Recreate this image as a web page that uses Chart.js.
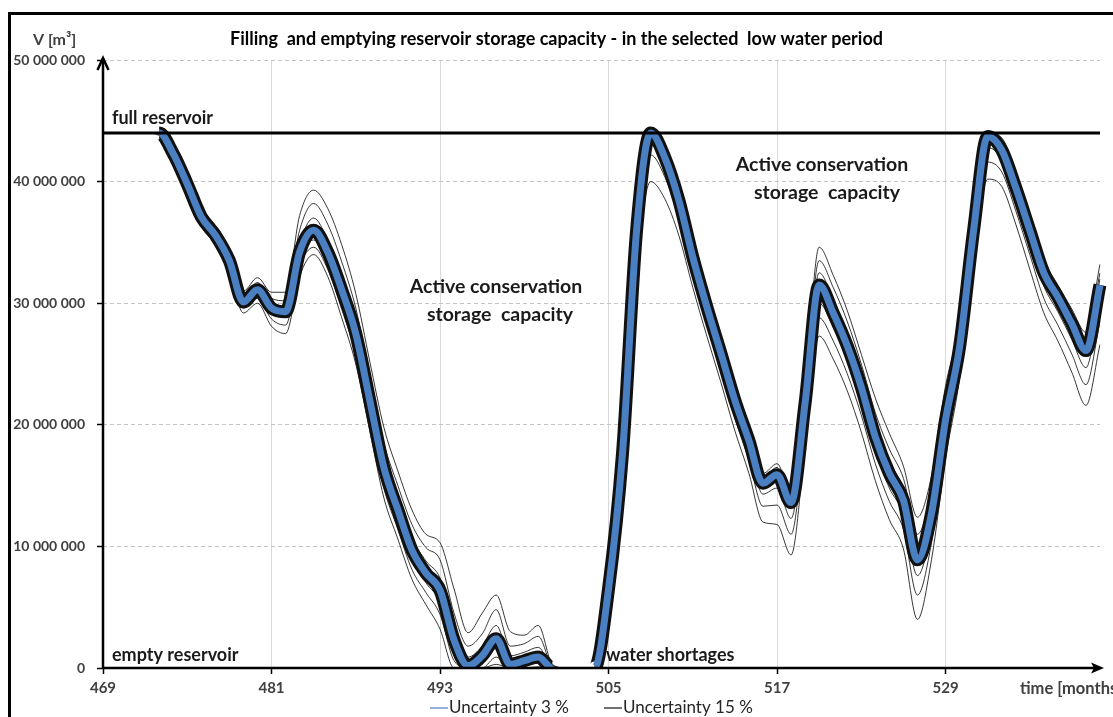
<!DOCTYPE html>
<html>
<head>
<meta charset="utf-8">
<title>Reservoir storage</title>
<script src="https://cdn.jsdelivr.net/npm/chart.js@4.4.1/dist/chart.umd.min.js"></script>
<style>
  html, body { margin: 0; padding: 0; background: #fff; }
  #wrap { width: 1113px; height: 717px; }
  canvas { display: block; }
</style>
</head>
<body>
<div id="wrap"><canvas id="chart" width="1113" height="717"></canvas></div>
<script>
// months of the simulated low-water period
const months = [];
for (let m = 469; m <= 540; m++) months.push(m);

const xTickLabels = [469, 481, 493, 505, 517, 529];
const yTickLabels = ['0', '10 000 000', '20 000 000', '30 000 000', '40 000 000', '50 000 000'];

// storage volume of the full reservoir, million m3
const fullStorage = 44.0;

// storage volume, million m3, monthly – uncertainty 3 % (run band centre)
const volume3 = [
  44.0, 44.0, 44.0, 44.0, 44.0, 42.3, 39.8, 37.1, 35.6, 33.5, 30.1, 31.1,
  29.6, 29.3, 34.2, 36.0, 34.2, 31.1, 27.5, 22.0, 16.5, 13.0, 9.7, 7.8,
  6.4, 2.3, 0.2, 1.0, 2.4, 0.3, 0.6, 0.9, 0.0, 0.0, 0.0, 0.0,
  6.5, 17.7, 36.0, 44.0, 42.0, 38.5, 33.8, 29.7, 25.9, 22.0, 18.7, 15.2,
  15.9, 13.6, 21.8, 31.5, 29.2, 26.5, 23.1, 19.0, 16.0, 13.8, 8.9, 12.7,
  20.4, 26.4, 36.0, 43.7, 42.6, 39.5, 36.0, 32.5, 30.5, 28.3, 26.1, 31.5
];

// storage volume, million m3, monthly – uncertainty 15 % runs
const volume15a = [
  44.0, 44.0, 44.0, 44.0, 44.0, 42.9, 40.6, 37.9, 36.4, 34.4, 31.0, 32.1,
  30.9, 30.9, 37.2, 39.3, 37.8, 34.8, 30.8, 25.2, 19.8, 16.2, 13.0, 11.0,
  10.3, 6.5, 2.9, 4.5, 6.0, 3.0, 2.7, 3.5, 0.3, 0.0, 0.0, 0.0,
  7.5, 19.0, 37.0, 44.0, 42.6, 39.4, 34.7, 30.6, 26.8, 22.9, 19.6, 16.0,
  16.8, 14.4, 23.0, 34.6, 32.3, 29.4, 25.8, 22.2, 19.3, 16.6, 12.4, 15.8,
  23.2, 28.2, 37.0, 44.0, 43.6, 40.8, 37.2, 33.6, 31.5, 29.5, 27.6, 33.2
];
const volume15b = [
  44.0, 44.0, 44.0, 44.0, 44.0, 42.7, 40.3, 37.6, 36.1, 34.0, 30.6, 31.7,
  30.4, 30.2, 36.0, 38.2, 36.5, 33.4, 29.6, 24.0, 18.5, 15.0, 11.8, 9.9,
  8.9, 4.5, 1.8, 2.8, 4.8, 1.8, 2.0, 2.6, 0.2, 0.0, 0.0, 0.0,
  7.2, 18.6, 36.7, 44.0, 42.3, 39.0, 34.4, 30.3, 26.5, 22.6, 19.3, 15.7,
  16.5, 14.1, 22.6, 33.5, 31.3, 28.5, 25.0, 21.0, 18.0, 15.6, 11.0, 14.6,
  22.2, 27.6, 36.7, 44.0, 43.3, 40.3, 36.7, 33.1, 31.1, 29.0, 27.0, 32.5
];
const volume15c = [
  44.0, 44.0, 44.0, 44.0, 44.0, 42.5, 40.0, 37.3, 35.8, 33.7, 30.3, 31.4,
  29.9, 29.7, 34.9, 37.0, 35.2, 32.2, 28.5, 23.0, 17.4, 13.9, 10.7, 8.8,
  7.4, 3.3, 0.9, 1.8, 3.5, 1.0, 1.3, 1.7, 0.1, 0.0, 0.0, 0.0,
  6.9, 18.2, 36.4, 44.0, 42.1, 38.8, 34.1, 30.0, 26.2, 22.3, 19.0, 15.5,
  16.2, 13.8, 22.2, 32.5, 30.3, 27.5, 24.1, 20.0, 17.0, 14.7, 9.9, 13.6,
  21.3, 27.0, 36.4, 43.9, 43.0, 39.9, 36.3, 32.8, 30.8, 28.6, 26.5, 32.0
];
const volume15d = [
  44.0, 44.0, 44.0, 44.0, 44.0, 42.1, 39.6, 36.9, 35.4, 33.3, 29.9, 30.8,
  29.2, 28.9, 33.6, 35.2, 33.4, 30.2, 26.6, 21.1, 15.6, 12.2, 8.9, 7.0,
  5.4, 1.4, 0.0, 0.3, 1.6, 0.0, 0.2, 0.4, 0.0, 0.0, 0.0, 0.0,
  6.1, 17.2, 35.4, 43.2, 41.3, 37.9, 33.2, 29.1, 25.3, 21.3, 17.9, 14.3,
  14.8, 12.3, 20.6, 30.0, 28.0, 25.3, 21.9, 17.8, 14.8, 12.6, 7.6, 11.5,
  19.5, 25.6, 35.4, 42.8, 41.8, 38.6, 35.0, 31.4, 29.3, 27.0, 24.7, 30.3
];
const volume15e = [
  44.0, 44.0, 44.0, 44.0, 43.9, 41.9, 39.3, 36.6, 35.1, 33.0, 29.6, 30.4,
  28.7, 28.2, 33.0, 34.6, 32.8, 29.5, 25.8, 20.3, 14.8, 11.4, 8.1, 6.2,
  4.4, 0.6, 0.0, 0.0, 0.9, 0.0, 0.0, 0.1, 0.0, 0.0, 0.0, 0.0,
  5.8, 16.8, 34.6, 42.2, 40.4, 37.0, 32.4, 28.3, 24.5, 20.5, 17.1, 13.3,
  13.4, 11.0, 19.5, 28.8, 26.9, 24.2, 20.8, 16.8, 13.7, 11.4, 6.0, 10.3,
  18.4, 24.7, 34.6, 41.6, 40.8, 37.6, 34.0, 30.4, 28.2, 25.8, 23.3, 28.5
];
const volume15f = [
  44.0, 44.0, 44.0, 44.0, 43.8, 41.7, 39.0, 36.3, 34.8, 32.6, 29.2, 30.0,
  28.1, 27.5, 32.2, 34.0, 32.2, 28.8, 25.0, 19.5, 14.0, 10.6, 7.3, 5.2,
  3.2, 0.0, 0.0, 0.0, 0.3, 0.0, 0.0, 0.0, 0.0, 0.0, 0.0, 0.0,
  5.4, 16.2, 32.8, 40.0, 38.6, 35.6, 31.3, 27.3, 23.5, 19.5, 16.0, 12.0,
  11.8, 9.3, 18.2, 27.3, 25.4, 22.8, 19.4, 15.4, 12.2, 9.8, 4.0, 8.9,
  17.2, 23.8, 33.6, 40.2, 39.6, 36.5, 32.8, 29.2, 26.9, 24.3, 21.6, 26.6
];

const FONT = 'Lato, "Open Sans", "DejaVu Sans", sans-serif';
const BLUE = '#4a7fc1';

// where all runs coincide (reservoir full or empty) the bundle shrinks to a hairline
const atBound = c => {
  const a = c.p0.parsed.y, b = c.p1.parsed.y;
  return a === b && (a === 0 || a === fullStorage);
};

const thinRun = (data, label) => ({
  label, data, borderColor: 'rgba(20,20,20,0.85)', borderWidth: 1,
  pointRadius: 0, cubicInterpolationMode: 'monotone', order: 4
});

const datasets = [
  {
    label: 'full reservoir', data: months.map(() => fullStorage),
    borderColor: '#000', borderWidth: 3, pointRadius: 0, order: 0
  },
  {
    label: 'Uncertainty 3 %', data: volume3, keyEntry: true, keyWidth: 1.2,
    borderColor: BLUE, borderWidth: 7, pointRadius: 0,
    cubicInterpolationMode: 'monotone', order: 1,
    segment: { borderWidth: c => atBound(c) ? 1.5 : undefined }
  },
  {
    label: 'Uncertainty 15 %', data: volume3, keyEntry: true, keyWidth: 1.2,
    borderColor: '#111', borderWidth: 13, pointRadius: 0,
    cubicInterpolationMode: 'monotone', order: 2,
    segment: { borderWidth: c => atBound(c) ? 1 : undefined }
  },
  thinRun(volume15a, 'Uncertainty 15 % a'),
  thinRun(volume15b, 'Uncertainty 15 % b'),
  thinRun(volume15c, 'Uncertainty 15 % c'),
  thinRun(volume15d, 'Uncertainty 15 % d'),
  thinRun(volume15e, 'Uncertainty 15 % e'),
  thinRun(volume15f, 'Uncertainty 15 % f')
];

// axes with arrows, labels, key and outer frame
const decor = {
  id: 'decor',
  beforeDraw(chart) {
    const { ctx } = chart;
    ctx.save();
    ctx.fillStyle = '#fff';
    ctx.fillRect(0, 0, chart.width, chart.height);
    ctx.restore();
  },
  afterDatasetsDraw(chart) {
    const { ctx, chartArea: a, scales: { x, y } } = chart;
    const x0 = x.getPixelForValue(0);
    const yb = y.getPixelForValue(0);
    const yt = y.getPixelForValue(50);
    ctx.save();
    ctx.strokeStyle = '#000';
    ctx.fillStyle = '#000';
    ctx.lineWidth = 2.5;
    ctx.beginPath(); ctx.moveTo(x0, yb + 1); ctx.lineTo(x0, yt - 2); ctx.stroke();
    ctx.beginPath(); ctx.moveTo(x0 - 5.5, yt + 10); ctx.lineTo(x0, yt - 2); ctx.lineTo(x0 + 5.5, yt + 10); ctx.stroke();
    const xr = a.right + 2;
    ctx.beginPath(); ctx.moveTo(x0, yb); ctx.lineTo(xr - 6, yb); ctx.stroke();
    ctx.beginPath();
    ctx.moveTo(xr + 2, yb); ctx.lineTo(xr - 11, yb - 5.5); ctx.lineTo(xr - 8, yb); ctx.lineTo(xr - 11, yb + 5.5);
    ctx.closePath(); ctx.fill();
    ctx.restore();
  },
  afterDraw(chart) {
    const { ctx, scales: { y } } = chart;
    const yFull = y.getPixelForValue(fullStorage);
    const yZero = y.getPixelForValue(0);
    ctx.save();
    ctx.textBaseline = 'middle';
    ctx.fillStyle = '#1a1a1a';
    ctx.font = `bold 18px ${FONT}`;
    ctx.textAlign = 'left';
    ctx.fillText('full reservoir', 112, yFull - 15);
    ctx.fillText('empty reservoir', 112, yZero - 13);
    ctx.fillText('water shortages', 606, yZero - 13);
    ctx.textAlign = 'center';
    ctx.font = `bold 19.5px ${FONT}`;
    ctx.fillText('Active conservation', 496, 287);
    ctx.fillText('storage  capacity', 500, 315);
    ctx.fillText('Active conservation', 822, 165);
    ctx.fillText('storage  capacity', 827, 193);

    ctx.textAlign = 'left';
    ctx.fillStyle = '#404040';
    ctx.font = `bold 16px ${FONT}`;
    ctx.fillText('V [m\u00B3]', 33, 40);
    ctx.font = `bold 16.5px ${FONT}`;
    ctx.fillText('time [months]', 1020, 689);

    // series key
    ctx.font = `17px ${FONT}`;
    const slots = [430, 604];
    chart.data.datasets.filter(d => d.keyEntry).forEach((d, i) => {
      const lx = slots[i];
      ctx.strokeStyle = d.borderColor;
      ctx.lineWidth = d.keyWidth;
      ctx.beginPath(); ctx.moveTo(lx, 708); ctx.lineTo(lx + 18, 708); ctx.stroke();
      ctx.fillStyle = '#262626';
      ctx.fillText(d.label, lx + 19, 708);
    });

    ctx.strokeStyle = '#000';
    ctx.lineWidth = 3;
    ctx.strokeRect(9.5, 13.5, 1400, 900);
    ctx.restore();
  }
};

new Chart(document.getElementById('chart'), {
  type: 'line',
  data: { labels: months, datasets },
  options: {
    responsive: false,
    animation: false,
    events: [],
    layout: { padding: { left: 13, right: 13, top: 3, bottom: 0 } },
    plugins: {
      legend: { display: false },
      tooltip: { enabled: false },
      title: {
        display: true,
        text: 'Filling  and emptying reservoir storage capacity - in the selected  low water period',
        color: '#000',
        font: { family: FONT, size: 18, weight: 'bold', lineHeight: 1.2 },
        padding: { top: 25, bottom: 10.4 }
      }
    },
    scales: {
      x: {
        type: 'category',
        afterFit: s => { s.height = 49; },
        border: { display: false },
        grid: {
          color: c => (c.index > 0 && xTickLabels.includes(months[c.index])) ? '#d9d9d9' : 'rgba(0,0,0,0)',
          tickColor: c => xTickLabels.includes(months[c.index]) ? '#000' : 'rgba(0,0,0,0)',
          lineWidth: 1,
          tickLength: 6,
          tickWidth: 1.5
        },
        ticks: {
          autoSkip: false,
          maxRotation: 0,
          padding: 5,
          color: '#404040',
          font: { family: FONT, size: 15, weight: 'bold' },
          callback: (v, i) => xTickLabels.includes(months[i]) ? String(months[i]) : ''
        }
      },
      y: {
        min: 0,
        max: 50,
        afterFit: s => { s.width = 90; },
        border: { display: false, dash: [4, 3] },
        grid: { color: '#c4c4c4', lineWidth: 1, tickLength: 6, tickColor: '#000', tickWidth: 1.5 },
        ticks: {
          stepSize: 10,
          padding: 12,
          color: '#404040',
          font: { family: FONT, size: 14, weight: 'bold' },
          callback: v => yTickLabels[Math.round(v / 10)]
        }
      }
    }
  },
  plugins: [decor]
});
</script>
</body>
</html>
